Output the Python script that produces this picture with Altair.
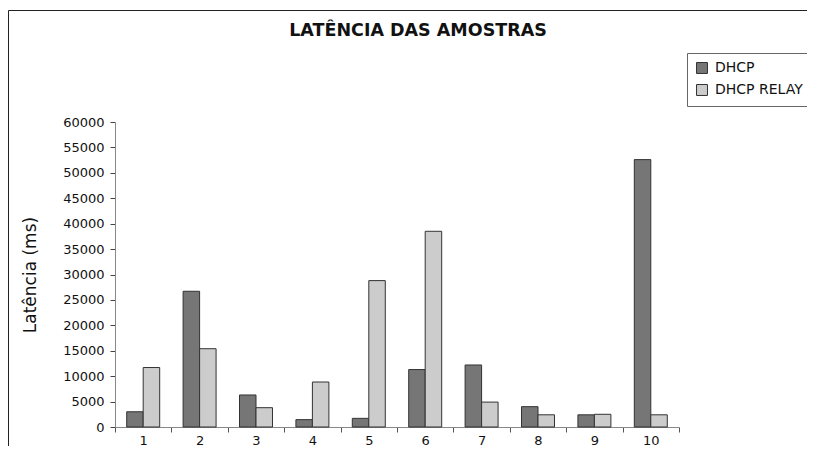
import altair as alt
import pandas as pd

amostras = ["1", "2", "3", "4", "5", "6", "7", "8", "9", "10"]
dhcp = [3000, 26700, 6300, 1450, 1700, 11300, 12200, 4000, 2400, 52600]
dhcp_relay = [11700, 15400, 3800, 8850, 28800, 38500, 4900, 2400, 2500, 2400]
series = ["DHCP", "DHCP RELAY"]
y_ticks = [0, 5000, 10000, 15000, 20000, 25000, 30000, 35000, 40000, 45000, 50000, 55000, 60000]
chart_title = "LATÊNCIA DAS AMOSTRAS"

rows = []
for a, v1, v2 in zip(amostras, dhcp, dhcp_relay):
    rows.append({"Amostra": a, "Serie": series[0], "Latencia": v1})
    rows.append({"Amostra": a, "Serie": series[1], "Latencia": v2})
df = pd.DataFrame(rows)

FONT = "DejaVu Sans"
W, H = 564, 305

bars = alt.Chart(df).mark_bar(stroke="#333333", strokeWidth=1).encode(
    x=alt.X("Amostra:N", sort=amostras,
            scale=alt.Scale(paddingInner=0, paddingOuter=0),
            axis=alt.Axis(title=None, labelAngle=0, tickBand="extent",
                          labelFontSize=13, labelFont=FONT, labelColor="#111",
                          tickSize=5, tickColor="#555", domainColor="#888",
                          labelPadding=2)),
    xOffset=alt.XOffset("Serie:N", sort=series,
                        scale=alt.Scale(paddingOuter=0.71, paddingInner=0)),
    y=alt.Y("Latencia:Q",
            scale=alt.Scale(domain=[0, 60000], nice=False),
            axis=alt.Axis(values=y_ticks, format="d", grid=False,
                          title="Latência (ms)", titleFontSize=17, titleFont=FONT,
                          titleFontWeight="normal", titleColor="#111",
                          titleX=-85, titleY=H / 2, titleAngle=-90,
                          titleAlign="center", titleBaseline="middle",
                          labelFontSize=13, labelFont=FONT, labelColor="#111",
                          tickSize=5, tickColor="#444", domainColor="#888",
                          labelPadding=6)),
    fill=alt.Fill("Serie:N", sort=series,
                  scale=alt.Scale(domain=series, range=["#767676", "#cccccc"]),
                  legend=alt.Legend(title=None, orient="none", legendX=572, legendY=-69,
                                    strokeColor="#666", fillColor="white", padding=8,
                                    symbolType="square", symbolSize=120,
                                    symbolStrokeColor="#333", symbolStrokeWidth=1,
                                    labelFontSize=14, labelFont=FONT, labelColor="#111",
                                    rowPadding=6, labelOffset=6)),
)

one = pd.DataFrame({"t": [chart_title]})
title_mark = alt.Chart(one).mark_text(
    font=FONT, fontSize=17.5, fontWeight="bold", color="#111",
    align="center", baseline="middle").encode(
    text="t:N", x=alt.value(303), y=alt.value(-91))

left_line = alt.Chart(one).mark_rule(color="#222", strokeWidth=1, clip=False).encode(
    x=alt.value(-106.5), y=alt.value(-111.5), y2=alt.value(340))
top_line = alt.Chart(one).mark_rule(color="#222", strokeWidth=1, clip=False).encode(
    x=alt.value(-106.5), x2=alt.value(700), y=alt.value(-111.5))

chart = alt.layer(bars, title_mark, left_line, top_line).properties(
    width=W, height=H,
    background="white",
    autosize=alt.AutoSizeParams(type="none"),
    padding={"left": 107, "top": 114, "right": 128, "bottom": 19},
).configure_view(strokeWidth=0, stroke="transparent")

chart.save("out.html", embed_options={"renderer": "svg", "actions": False})
